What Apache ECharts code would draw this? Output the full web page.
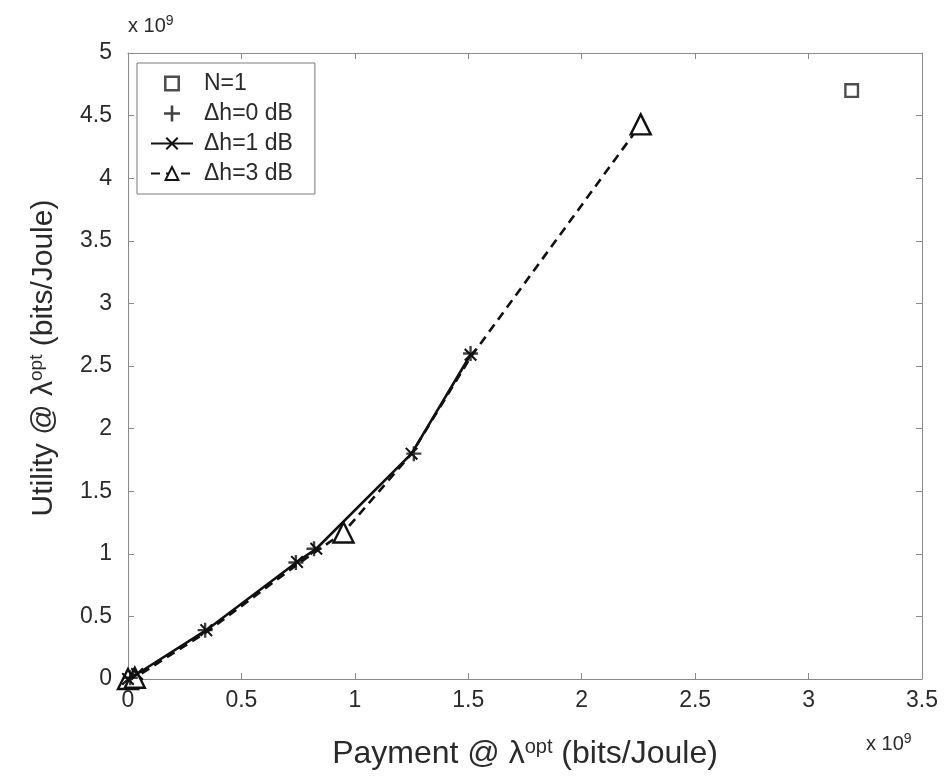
<!DOCTYPE html>
<html>
<head>
<meta charset="utf-8">
<script src="https://cdn.jsdelivr.net/npm/echarts@6/dist/echarts.min.js"></script>
<style>html,body{margin:0;padding:0;background:#fff}#c{width:944px;height:776px}</style>
</head>
<body>
<div id="c"></div>
<script>
// Values in units of 1e9 bits/Joule
const seriesNames = ['N=1', 'Δh=0 dB', 'Δh=1 dB', 'Δh=3 dB'];
const n1Points = [[3.19, 4.70]];
const h0Points = [[0.01, 0.01], [0.34, 0.39], [0.74, 0.93], [0.82, 1.04], [1.26, 1.80], [1.51, 2.60]];
const h1Points = [[0.0, 0.0], [0.04, 0.04], [0.345, 0.39], [0.745, 0.935], [0.83, 1.04], [1.25, 1.80], [1.51, 2.59]];
const h3Points = [[0.0, 0.0], [0.03, 0.01], [0.35, 0.38], [0.75, 0.92], [0.95, 1.17], [1.25, 1.80], [1.51, 2.57], [2.26, 4.43]];
const h3Marked = [true, true, false, false, true, false, false, true];
const xRange = [0, 3.5, 0.5];
const yRange = [0, 5, 0.5];

const squarePath = 'path://M0,0H10V10H0Z M1.6,1.6V8.4H8.4V1.6Z';
const plusPath = 'path://M4.2,0H5.8V4.2H10V5.8H5.8V10H4.2V5.8H0V4.2H4.2Z';
const crossPath = 'path://M1.1,0L5,3.9L8.9,0L10,1.1L6.1,5L10,8.9L8.9,10L5,6.1L1.1,10L0,8.9L3.9,5L0,1.1Z';

const chart = echarts.init(document.getElementById('c'));
const FONT = 'Liberation Sans, Arial, sans-serif';
const axisGray = '#8a8a8a';
const textCol = '#2a2a2a';

function rich(fs) {
  return {
    it: {fontSize: fs, fontFamily: FONT, color: textCol},
    sup: {fontSize: Math.round(fs * 0.64), fontFamily: FONT, color: textCol, verticalAlign: 'bottom', padding: [0, 0, Math.round(fs * 0.47), 0]}
  };
}

function mkX(pos, show) {
  return {
    type: 'value', position: pos, min: xRange[0], max: xRange[1], interval: xRange[2],
    axisLine: {show: true, onZero: false, lineStyle: {color: axisGray, width: 1}},
    axisTick: {show: true, inside: true, length: 6, lineStyle: {color: axisGray}},
    splitLine: {show: false},
    axisLabel: {show: show, color: textCol, fontSize: 23, fontFamily: FONT, margin: 10},
    name: show ? 'Payment @ {it|λ}{sup|opt} (bits/Joule)' : '',
    nameLocation: 'middle', nameGap: 58,
    nameTextStyle: {color: textCol, fontSize: 32, fontFamily: FONT, rich: rich(32)}
  };
}
function mkY(pos, show) {
  return {
    type: 'value', position: pos, min: yRange[0], max: yRange[1], interval: yRange[2],
    axisLine: {show: true, onZero: false, lineStyle: {color: axisGray, width: 1}},
    axisTick: {show: true, inside: true, length: 6, lineStyle: {color: axisGray}},
    splitLine: {show: false},
    axisLabel: {show: show, color: textCol, fontSize: 23, fontFamily: FONT, margin: 16},
    name: show ? 'Utility @ {it|λ}{sup|opt} (bits/Joule)' : '',
    nameLocation: 'middle', nameGap: 68,
    nameTextStyle: {color: textCol, fontSize: 30, fontFamily: FONT, rich: rich(30), padding: [0, 0, 0, 16]}
  };
}

chart.setOption({
  animation: false,
  backgroundColor: '#fff',
  grid: {left: 128, right: 22, top: 53, bottom: 97, containLabel: false},
  xAxis: [mkX('bottom', true), mkX('top', false)],
  yAxis: [mkY('left', true), mkY('right', false)],
  legend: {
    orient: 'vertical', left: 137, top: 63,
    data: seriesNames,
    itemWidth: 42, itemHeight: 16, itemGap: 7,
    padding: [9, 22, 9, 13],
    borderColor: '#7a7a7a', borderWidth: 1, backgroundColor: '#fff',
    textStyle: {color: textCol, fontSize: 23, fontFamily: FONT, padding: [0, 0, 0, 6]}
  },
  graphic: [
    {type: 'text', left: 128, top: 14, style: {text: 'x 10{s|9}', font: '20px ' + FONT, fill: textCol,
      rich: {s: {fontSize: 14, fontFamily: FONT, fill: textCol, verticalAlign: 'bottom', padding: [0, 0, 10, 0]}}}},
    {type: 'text', left: 866, top: 732, style: {text: 'x 10{s|9}', font: '20px ' + FONT, fill: textCol,
      rich: {s: {fontSize: 14, fontFamily: FONT, fill: textCol, verticalAlign: 'bottom', padding: [0, 0, 10, 0]}}}}
  ],
  series: [
    {
      name: seriesNames[0], type: 'scatter', data: n1Points,
      symbol: squarePath, symbolSize: 15, symbolKeepAspect: true,
      itemStyle: {color: '#222'}, z: 5
    },
    {
      name: seriesNames[1], type: 'scatter', data: h0Points,
      symbol: plusPath, symbolSize: 15, symbolKeepAspect: true,
      itemStyle: {color: '#111'}, z: 4
    },
    {
      name: seriesNames[2], type: 'line', data: h1Points,
      symbol: crossPath, symbolSize: 13, showAllSymbol: true,
      lineStyle: {color: '#111', width: 2.6, type: 'solid'},
      itemStyle: {color: '#111'}, z: 3
    },
    {
      name: seriesNames[3], type: 'line',
      data: h3Points.map((p, i) => h3Marked[i] ? {value: p} : {value: p, symbol: 'none'}),
      symbol: 'triangle', symbolSize: 20, showAllSymbol: true,
      lineStyle: {color: '#111', width: 2.6, type: [9, 6]},
      itemStyle: {color: '#fff', borderColor: '#111', borderWidth: 2.4}, z: 2
    }
  ]
});
</script>
</body>
</html>
